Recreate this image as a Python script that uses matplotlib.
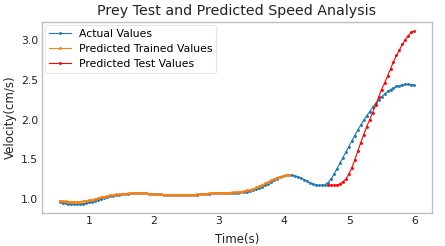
import numpy as np
import matplotlib
matplotlib.use("Agg")
import matplotlib.pyplot as plt

time = np.round(np.linspace(0.55, 6.0, 120), 3)

actual_values = [
    0.965, 0.955, 0.945, 0.938, 0.934, 0.932, 0.932, 0.934, 0.940, 0.948,
    0.957, 0.968, 0.980, 0.993, 1.005, 1.016, 1.026, 1.035, 1.043, 1.050,
    1.055, 1.060, 1.064, 1.067, 1.069, 1.070, 1.071, 1.071, 1.071, 1.070,
    1.068, 1.066, 1.063, 1.060, 1.057, 1.054, 1.051, 1.049, 1.047, 1.046,
    1.045, 1.045, 1.046, 1.047, 1.049, 1.051, 1.054, 1.057, 1.060, 1.063,
    1.066, 1.069, 1.071, 1.072, 1.073, 1.074, 1.074, 1.075, 1.076, 1.078,
    1.080, 1.083, 1.087, 1.092, 1.099, 1.108, 1.120, 1.135, 1.153, 1.173,
    1.194, 1.215, 1.236, 1.256, 1.273, 1.287, 1.296, 1.300, 1.298, 1.290,
    1.278, 1.262, 1.244, 1.225, 1.205, 1.190, 1.178, 1.172, 1.172, 1.180,
    1.205, 1.250, 1.310, 1.380, 1.450, 1.520, 1.590, 1.660, 1.730, 1.800,
    1.870, 1.930, 1.990, 2.050, 2.100, 2.155, 2.205, 2.250, 2.290, 2.325,
    2.355, 2.380, 2.400, 2.418, 2.430, 2.440, 2.445, 2.446, 2.442, 2.435,
]

trained_values = [
    0.980, 0.975, 0.970, 0.967, 0.965, 0.965, 0.966, 0.968, 0.972, 0.978,
    0.985, 0.993, 1.002, 1.012, 1.022, 1.031, 1.039, 1.046, 1.052, 1.057,
    1.061, 1.064, 1.067, 1.069, 1.070, 1.071, 1.072, 1.072, 1.071, 1.070,
    1.068, 1.066, 1.063, 1.060, 1.057, 1.055, 1.053, 1.051, 1.050, 1.049,
    1.049, 1.049, 1.050, 1.051, 1.053, 1.055, 1.058, 1.061, 1.064, 1.067,
    1.070, 1.072, 1.074, 1.076, 1.077, 1.078, 1.079, 1.080, 1.082, 1.085,
    1.089, 1.094, 1.100, 1.108, 1.118, 1.130, 1.145, 1.161, 1.179, 1.198,
    1.217, 1.236, 1.254, 1.270, 1.283, 1.293, 1.299, 1.301,
]

test_values = [
    1.175, 1.172, 1.172, 1.176, 1.190, 1.215, 1.250, 1.310, 1.390, 1.490,
    1.600, 1.710, 1.810, 1.910, 2.000, 2.090, 2.180, 2.280, 2.380, 2.460,
    2.550, 2.640, 2.730, 2.810, 2.880, 2.950, 3.010, 3.060, 3.100, 3.120,
]

t_trained = time[:len(trained_values)]
t_test = time[len(time) - len(test_values):]

fig = plt.figure(figsize=(4.45, 2.46), dpi=100)
ax = fig.add_axes([0.094, 0.134, 0.877, 0.776])

ax.plot(time, actual_values, color="#1f77b4", marker=".", markersize=2.2,
        linewidth=0.8, label="Actual Values")
ax.plot(t_trained, trained_values, color="#ff7f0e", marker=".", markersize=2.2,
        linewidth=0.8, label="Predicted Trained Values")
ax.plot(t_test, test_values, color="red", marker=".", markersize=2.2,
        linewidth=0.8, label="Predicted Test Values")

ax.set_title("Prey Test and Predicted Speed Analysis", fontsize=10.3,
             color="#222222", pad=5)
ax.set_xlabel("Time(s)", fontsize=8.5, color="#222222", labelpad=5)
ax.set_ylabel("Velocity(cm/s)", fontsize=8.5, color="#222222", labelpad=3)
ax.set_xticks([1, 2, 3, 4, 5, 6])
ax.set_yticks([1.0, 1.5, 2.0, 2.5, 3.0])
ax.tick_params(axis="x", length=0, labelsize=7.8, colors="#222222", pad=2)
ax.tick_params(axis="y", length=0, labelsize=7.8, colors="#222222", pad=2.5)
for s in ax.spines.values():
    s.set_color("#bfbfbf")
    s.set_linewidth(1.0)

leg = ax.legend(loc="upper left", fontsize=7.8, frameon=True, handlelength=2.0,
                handletextpad=0.75, borderpad=0.35, labelspacing=0.45,
                bbox_to_anchor=(0.0, 1.0), borderaxespad=0.3)
leg.get_frame().set_edgecolor("#e0e0e0")
leg.get_frame().set_linewidth(0.8)

fig.savefig("out.png", dpi=100)
